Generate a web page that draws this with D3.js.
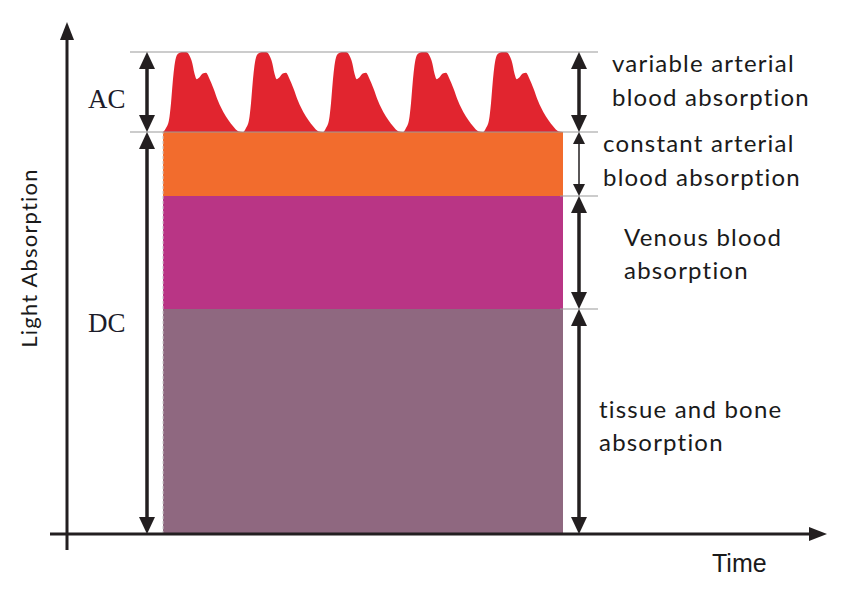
<!DOCTYPE html>
<html>
<head>
<meta charset="utf-8">
<script src="https://cdn.jsdelivr.net/npm/d3@7"></script>
<style>
html,body{margin:0;padding:0;background:#fff}
svg{display:block}
.lbl{font-family:Lato,"Open Sans",sans-serif;font-size:24px;letter-spacing:1.2px;fill:#1a1a1a}
.serif{font-family:"Liberation Serif","DejaVu Serif",serif;font-size:27px;fill:#1c1c2a}
</style>
</head>
<body>
<div id="chart"></div>
<script>
// time in seconds, absorption in arbitrary units
const pulseStarts=[0.96,1.76,2.56,3.36,4.16];
const pulseT=[0,0.03,0.06,0.08,0.097,0.11,0.13,0.153,0.187,0.23,0.263,0.293,0.313,0.337,0.363,0.397,0.43,0.463,0.503,0.553,0.603,0.653,0.703,0.753,0.8];
const pulseV=[0,0.05,0.15,0.36,0.62,0.78,0.93,0.98,1,1,0.96,0.86,0.74,0.66,0.68,0.73,0.74,0.67,0.55,0.38,0.25,0.15,0.07,0.01,0];
const barStart=0.96,barEnd=4.96;
const layerNames=['tissue','venous','arterial'];
const layerValues=[2.25,1.13,0.64];
const layerColors=['#8f6880','#b93585','#f26c2d'];
const acAmp=0.8;
const acColor='#e1252f';
const rightLabels=[
  {lines:['variable arterial','blood absorption'],x:612,y:[72,106]},
  {lines:['constant arterial','blood absorption'],x:603,y:[152,186]},
  {lines:['Venous blood','absorption'],x:624,y:[246,279]},
  {lines:['tissue and bone','absorption'],x:599,y:[418,451]}
];

const W=850,H=592,ink='#231f20';
const x=d3.scaleLinear().domain([0,7.58]).range([67,825]);
const y=d3.scaleLinear().domain([0,5.12]).range([534,22]);
const svg=d3.select('#chart').append('svg').attr('width',W).attr('height',H);

// stacked DC layers
const tops=d3.cumsum(layerValues);
const dcTop=tops[tops.length-1];
layerValues.forEach((v,i)=>{
  const lo=i?tops[i-1]:0;
  svg.append('rect').attr('x',x(barStart)).attr('width',x(barEnd)-x(barStart))
    .attr('y',y(tops[i])).attr('height',y(lo)-y(tops[i])).attr('fill',layerColors[i]);
});
svg.append('line').attr('x1',x(barStart)).attr('x2',x(barStart)).attr('y1',y(0)).attr('y2',y(dcTop))
  .attr('stroke','#c9c9c9').attr('stroke-width',1).attr('stroke-dasharray','3,2');

// AC pulsatile part
const ac=[];
pulseStarts.forEach(s=>pulseT.forEach((t,j)=>ac.push({t:s+t,v:pulseV[j]})));
const area=d3.area().x(d=>x(d.t)).y0(y(dcTop)).y1(d=>y(dcTop+d.v*acAmp)).curve(d3.curveMonotoneX);
svg.append('path').datum(ac).attr('d',area).attr('fill',acColor);

// guide lines
const gl=(x1,x2,v)=>svg.append('line').attr('x1',x1).attr('x2',x2).attr('y1',y(v)).attr('y2',y(v))
  .attr('stroke','#9a9a9a').attr('stroke-width',1.2);
gl(130,598,dcTop+acAmp);gl(130,598,dcTop);
gl(560,598,tops[1]);gl(560,598,tops[0]);

// axes
svg.append('line').attr('x1',x(0)).attr('x2',x(0)).attr('y1',550).attr('y2',38).attr('stroke',ink).attr('stroke-width',3);
svg.append('path').attr('d',`M${x(0)},22L${x(0)-7},40L${x(0)+7},40Z`).attr('fill',ink);
svg.append('line').attr('x1',50).attr('x2',810).attr('y1',y(0)).attr('y2',y(0)).attr('stroke',ink).attr('stroke-width',3);
svg.append('path').attr('d',`M827,${y(0)}L809,${y(0)-7}L809,${y(0)+7}Z`).attr('fill',ink);

// double arrows
function dbl(px,v0,v1,thin){
  const a=y(v1),b=y(v0),hw=thin?6:8,hh=thin?12:17;
  svg.append('line').attr('x1',px).attr('x2',px).attr('y1',a+hh-2).attr('y2',b-hh+2)
    .attr('stroke',ink).attr('stroke-width',thin?1.5:3.5);
  svg.append('path').attr('d',`M${px},${a}L${px-hw},${a+hh}L${px+hw},${a+hh}Z`).attr('fill',ink);
  svg.append('path').attr('d',`M${px},${b}L${px-hw},${b-hh}L${px+hw},${b-hh}Z`).attr('fill',ink);
}
dbl(147,dcTop,dcTop+acAmp);
dbl(147,0,dcTop);
dbl(579,dcTop,dcTop+acAmp);
dbl(579,tops[1],dcTop,true);
dbl(579,tops[0],tops[1]);
dbl(579,0,tops[0]);

// labels
svg.append('text').attr('class','serif').attr('x',88).attr('y',108).text('AC');
svg.append('text').attr('class','serif').attr('x',88).attr('y',332).text('DC');
rightLabels.forEach(l=>l.lines.forEach((s,i)=>svg.append('text').attr('class','lbl').attr('x',l.x).attr('y',l.y[i]).text(s)));
svg.append('text').attr('class','lbl').style('font-size','22px').style('letter-spacing','1.2px')
  .attr('transform','translate(37,258) rotate(-90)').attr('text-anchor','middle').text('Light Absorption');
svg.append('text').attr('x',712).attr('y',572)
  .style('font-family','"Liberation Sans Narrow","Liberation Sans",Arial,sans-serif').style('font-size','25px').attr('fill','#1a1a1a')
  .text('Time');
</script>
</body>
</html>
